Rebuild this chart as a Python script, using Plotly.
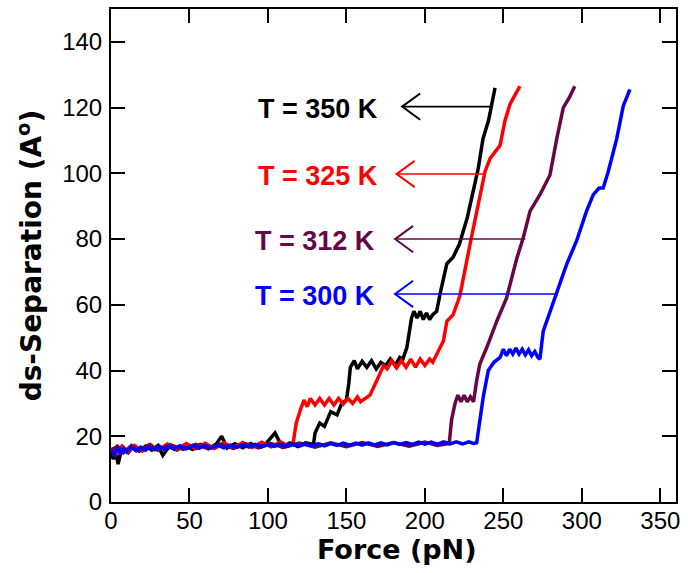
import plotly.graph_objects as go

# ---- data ----
x_350 = [0, 1.5, 3, 4.5, 6, 8, 11, 14, 18, 22, 26, 30, 33, 37, 42, 47, 52, 57, 62, 67, 70.5, 74, 79, 84, 89, 94,
         99, 104.5, 109, 114, 119, 124, 129,
         130, 133, 136, 140, 144, 147, 150, 151.5, 152.5, 155, 157, 160, 163, 166, 169, 172, 175, 178, 181, 184, 186,
         188.5, 191.5, 193, 195, 197, 199, 201, 203, 205, 207.5, 210, 214, 218, 222, 227, 231, 234, 237, 240.5, 244.7]
y_350 = [15, 13, 15.5, 11.5, 14.5, 16.5, 15, 16.8, 15.5, 17, 15.8, 17.2, 14.2, 16.8, 15.8, 17.3, 16, 17.5, 16.2, 17.6,
         20, 16.4, 17.7, 16.5, 17.8, 16.6, 17.9, 21, 16.8, 18, 16.9, 18, 17.5,
         21, 24, 23, 27.5, 26.5, 30, 31, 36, 41, 43, 40.5, 42.8, 41, 43, 40.5, 42.5, 41.5, 43.5, 41.5, 44, 43.5,
         47, 56, 58, 56, 58, 55.5, 57.5, 55.5, 57, 58, 64, 72.5, 74.5, 78.5, 86.5, 94.5, 101.5, 110.5, 116, 126]

x_325 = [0, 3, 7, 11, 15, 20, 25, 30, 36, 42, 48, 54, 60, 66, 72, 78, 84, 90, 96, 102, 108, 113, 116,
         118, 121, 123, 125, 127, 130, 133, 136, 139, 142, 145, 148, 151, 154, 157, 159,
         165, 170.4, 173.6, 176, 179, 182, 185, 188, 191, 194, 197, 200, 203, 205,
         207.6, 211.8, 214, 218, 221, 222.4, 228.8, 234, 238.3, 241.5, 244, 247.9, 251, 254.2, 257, 260.6]
y_325 = [16.5, 14.5, 17, 15.2, 17.2, 15.5, 17.5, 15.8, 17.6, 16, 17.8, 16.2, 17.9, 16.3, 18, 16.5, 18.1, 16.6, 18.2,
         16.8, 18.3, 17, 17.8,
         24, 28.5, 31, 29, 31.5, 29.5, 31.5, 29.5, 31.5, 29.5, 31.5, 29.8, 31.5, 30, 32, 30.5,
         32.5, 38, 41.5, 40.5, 43, 40.8, 43, 41, 43.5, 41, 43.5, 41.5, 43.5, 42.5,
         45, 49, 55, 57, 61, 63, 78.5, 90.5, 100.5, 104.5, 106, 108.5, 116, 121, 123.5, 126.5]

x_312 = [0, 4, 8, 13, 18, 24, 30, 38, 46, 54, 62, 70, 78, 86, 94, 102, 110, 120, 130, 140, 150, 160, 170, 180,
         190, 200, 208, 215.5,
         217, 219.2, 221, 223, 225, 227, 229, 231, 233, 235, 239.4, 245.8, 252, 258.5,
         262.7, 267, 273.3, 279.7, 284, 288.2, 292, 295.5]
y_312 = [15.5, 17, 15, 17.2, 15.5, 17.3, 15.8, 17.4, 16, 17.5, 16.2, 17.6, 16.3, 17.7, 16.5, 17.8, 16.6, 17.9,
         16.7, 18, 16.8, 18.1, 16.9, 18.1, 17, 18.2, 17.2, 17.8,
         25, 30, 32.5, 30.5, 32.5, 30.5, 32, 30.5, 37, 42, 47, 55, 62, 74,
         80.5, 88.5, 93.5, 99.5, 110.5, 120, 123, 126.5]

x_300 = [0, 2, 4, 6, 8, 10, 13, 16, 19, 22, 25, 28, 31, 34, 37, 40, 44, 48, 52, 56, 60, 64, 68, 72, 76, 80,
         84, 88, 92, 96, 100, 104, 108, 112, 116, 120, 124, 128, 132, 136, 140, 144, 148, 152, 156, 160, 164,
         168, 172, 176, 180, 184, 188, 192, 196, 200, 204, 208, 212, 216, 220, 224, 228, 231, 233,
         235, 237.2, 240.4, 244, 247.9, 250, 252, 254, 256, 258, 260, 262, 264, 266, 268, 270, 272, 273.3,
         275.4, 279.7, 284, 290.3, 296.7, 303, 307.3, 311, 313.6, 316.8, 322.2, 326.4, 330.6]
y_300 = [15.5, 14.3, 16.5, 14.8, 16.3, 15.2,
         16.6, 15.6, 16.7, 15.8, 16.8, 15.9, 16.9, 16.0, 17.0, 16.1,
         17.1, 16.2, 17.2, 16.3, 17.2, 16.4, 17.3, 16.5, 17.3, 16.6,
         17.4, 16.7, 17.5, 16.8, 17.5, 16.9, 17.6, 17.0, 17.7, 17.0,
         17.7, 17.1, 17.8, 17.1, 17.8, 17.2, 17.9, 17.3, 17.9, 17.3,
         18.0, 17.4, 18.0, 17.4, 18.1, 17.5, 18.1, 17.5, 18.2, 17.6,
         18.2, 17.6, 18.3, 17.7, 18.3, 17.7, 18.3, 17.8, 18,
         25, 32, 40, 42.5, 44, 46.5, 44.5, 46.5, 45, 46.8, 45, 46.5, 44.8, 46.3, 44.5, 45.8, 44, 43.5,
         52, 58, 63.2, 72.3, 79.5, 88.5, 93.5, 95.5, 95.5, 100.5, 110.5, 120.5, 125.5]

labels = ["T = 350 K", "T = 325 K", "T = 312 K", "T = 300 K"]
colors = ["#000000", "#ff0000", "#670748", "#0000ff"]
arrow_y = [120.3, 99.8, 80.0, 63.3]
arrow_tip_x = [185.5, 182.0, 181.0, 181.0]
arrow_end_x = [242.0, 238.0, 264.0, 284.0]
label_x = [171.5, 171.5, 169.5, 169.5]

xs = [x_350, x_325, x_312, x_300]
ys = [y_350, y_325, y_312, y_300]

fig = go.Figure()

for xv, yv, c in zip(xs, ys, colors):
    fig.add_trace(go.Scatter(x=xv, y=yv, mode="lines", line=dict(color=c, width=3.5),
                             showlegend=False, hoverinfo="skip"))

# arrows (line + open chevron head)
dx, dy = 11.5, 4.0
for ay, tx, ex, c in zip(arrow_y, arrow_tip_x, arrow_end_x, colors):
    fig.add_trace(go.Scatter(x=[ex, tx], y=[ay, ay], mode="lines",
                             line=dict(color=c, width=1.6), showlegend=False, hoverinfo="skip"))
    fig.add_trace(go.Scatter(x=[tx + dx, tx, tx + dx], y=[ay + dy, ay, ay - dy], mode="lines",
                             line=dict(color=c, width=2), showlegend=False, hoverinfo="skip"))

for lx, ay, t, c in zip(label_x, arrow_y, labels, colors):
    fig.add_annotation(x=lx, y=ay - 0.6, text=t, showarrow=False, xanchor="right", yanchor="middle",
                       font=dict(family="Liberation Sans, Arial", size=27, color=c, weight="bold"))

# x-axis title
fig.add_annotation(x=0.507, y=-0.097, xref="paper", yref="paper", text="Force (pN)", showarrow=False,
                   xanchor="center", yanchor="middle",
                   font=dict(family="DejaVu Sans", size=27, color="black", weight="bold"))

axis_common = dict(showline=True, linecolor="black", linewidth=2, mirror="ticks",
                   ticks="inside", ticklen=14, tickwidth=2, tickcolor="black",
                   showgrid=False, zeroline=False,
                   tickfont=dict(family="Liberation Sans, Arial", size=24, color="black"))

fig.update_xaxes(range=[0, 360], tickvals=[0, 50, 100, 150, 200, 250, 300, 350],
                 ticklabelstandoff=-4, **axis_common)
fig.update_yaxes(range=[0, 150], tickvals=[0, 20, 40, 60, 80, 100, 120, 140],
                 ticklabelstandoff=2,
                 title=dict(text="ds-Separation (A<sup>o</sup>)", standoff=12,
                            font=dict(family="DejaVu Sans", size=28, color="black", weight="bold")),
                 **axis_common)

fig.update_layout(width=688, height=573, margin=dict(l=111, r=12, t=7, b=71),
                  plot_bgcolor="white", paper_bgcolor="white")

fig.write_html("out.html")
